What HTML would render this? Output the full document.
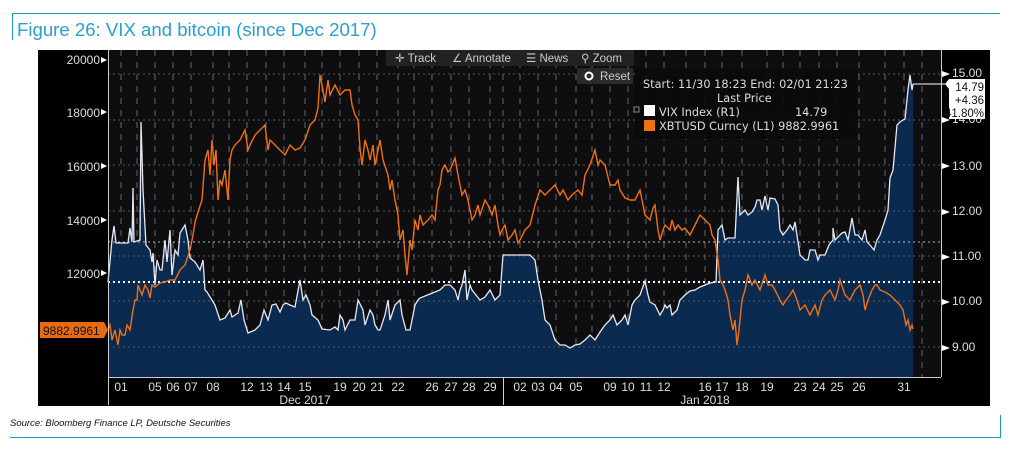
<!DOCTYPE html>
<html><head><meta charset="utf-8"><style>
body{margin:0;background:#fff;width:1011px;height:457px;overflow:hidden;font-family:"Liberation Sans",sans-serif}
svg{position:absolute;left:0;top:0}
</style></head><body>
<svg width="1011" height="457" viewBox="0 0 1011 457" font-family="Liberation Sans, sans-serif">
<line x1="12" y1="13.5" x2="1000" y2="13.5" stroke="#1a9bc4" stroke-width="1"/>
<line x1="12.5" y1="13" x2="12.5" y2="40" stroke="#1a9bc4"/>
<text x="17" y="36" font-size="18.6" fill="#2a9fd0">Figure 26: VIX and bitcoin (since Dec 2017)</text>
<rect x="38" y="50" width="952" height="356" fill="#000"/>
<rect x="108" y="50" width="833" height="327" fill="#0e0e10"/>
<g stroke="#666" stroke-dasharray="6,6" stroke-width="1">
<line x1="121" y1="50" x2="121" y2="377"/><line x1="137" y1="50" x2="137" y2="377"/><line x1="155" y1="50" x2="155" y2="377"/><line x1="173" y1="50" x2="173" y2="377"/><line x1="191" y1="50" x2="191" y2="377"/><line x1="213" y1="50" x2="213" y2="377"/><line x1="229" y1="50" x2="229" y2="377"/><line x1="247" y1="50" x2="247" y2="377"/><line x1="266" y1="50" x2="266" y2="377"/><line x1="284" y1="50" x2="284" y2="377"/><line x1="305" y1="50" x2="305" y2="377"/><line x1="322" y1="50" x2="322" y2="377"/><line x1="340" y1="50" x2="340" y2="377"/><line x1="359" y1="50" x2="359" y2="377"/><line x1="377" y1="50" x2="377" y2="377"/><line x1="398" y1="50" x2="398" y2="377"/><line x1="414" y1="50" x2="414" y2="377"/><line x1="432" y1="50" x2="432" y2="377"/><line x1="451" y1="50" x2="451" y2="377"/><line x1="469" y1="50" x2="469" y2="377"/><line x1="490" y1="50" x2="490" y2="377"/><line x1="503" y1="50" x2="503" y2="377"/><line x1="520" y1="50" x2="520" y2="377"/><line x1="538" y1="50" x2="538" y2="377"/><line x1="556" y1="50" x2="556" y2="377"/><line x1="576" y1="50" x2="576" y2="377"/><line x1="592" y1="50" x2="592" y2="377"/><line x1="610" y1="50" x2="610" y2="377"/><line x1="628" y1="50" x2="628" y2="377"/><line x1="646" y1="50" x2="646" y2="377"/><line x1="664" y1="50" x2="664" y2="377"/><line x1="686" y1="50" x2="686" y2="377"/><line x1="705" y1="50" x2="705" y2="377"/><line x1="722" y1="50" x2="722" y2="377"/><line x1="742" y1="50" x2="742" y2="377"/><line x1="767" y1="50" x2="767" y2="377"/><line x1="783" y1="50" x2="783" y2="377"/><line x1="800" y1="50" x2="800" y2="377"/><line x1="819" y1="50" x2="819" y2="377"/><line x1="837" y1="50" x2="837" y2="377"/><line x1="859" y1="50" x2="859" y2="377"/><line x1="885" y1="50" x2="885" y2="377"/><line x1="904" y1="50" x2="904" y2="377"/><line x1="922" y1="50" x2="922" y2="377"/>
</g>
<path fill="#0b2a50" d="M108,377 L108,282 112,240 114,226 116,243 128,243 130,228 132,242 133,188 134,242 140,240 141,122 143,190 146,245 150,250 152,262 153,253 155,285 157,260 160,270 162,270 165,240 167,262 170,230 172,275 175,250 178,255 180,233 185,225 188,240 190,258 195,262 200,270 203,260 205,290 207,292 215,305 220,320 225,318 230,310 232,317 238,313 241,300 244,320 248,333 255,330 260,325 264,310 268,320 272,305 276,304 280,312 283,305 286,303 290,305 295,307 300,280 303,300 306,295 310,305 312,315 318,320 322,329 330,330 335,327 338,330 340,315 343,320 345,330 350,320 355,320 358,300 363,310 365,325 370,310 373,315 375,325 378,330 380,330 385,315 388,300 390,320 395,305 400,300 402,315 406,330 410,330 415,305 418,300 420,298 430,294 440,290 445,285 450,285 455,290 458,300 460,290 462,285 465,270 467,300 470,285 472,290 480,300 485,297 490,290 495,300 500,295 503,255 510,255 520,255 530,255 535,260 538,280 542,300 545,320 550,325 555,340 560,345 565,345 570,348 575,345 580,344 585,340 590,335 595,340 600,332 605,325 610,320 613,315 617,325 622,320 625,315 628,325 632,305 635,300 640,295 645,281 648,295 650,302 655,305 660,315 663,310 665,305 667,308 670,305 672,315 677,310 680,300 685,295 690,291 695,290 700,287 710,283 716,282 718,230 722,225 725,240 728,238 733,238 735,238 738,177 740,215 745,210 748,215 752,212 755,207 757,200 760,200 762,210 765,196 768,210 770,198 775,199 778,205 780,230 783,235 787,230 790,225 793,230 795,222 800,255 805,260 808,260 810,250 815,250 818,260 820,255 825,255 829,245 833,240 833,228 835,240 842,233 845,232 848,240 852,218 855,235 858,235 862,240 865,230 867,242 870,245 874,250 877,240 880,235 885,220 888,210 890,178 893,170 897,125 900,122 903,120 905,119 908,90 910,75 912,90 913,84 L913,377 Z"/>
<g stroke-dasharray="2,3" fill="none">
<g stroke="#555"><line x1="108" y1="74" x2="941" y2="74"/><line x1="108" y1="120" x2="941" y2="120"/><line x1="108" y1="165" x2="941" y2="165"/><line x1="108" y1="211" x2="941" y2="211"/><line x1="108" y1="256" x2="941" y2="256"/><line x1="108" y1="301" x2="941" y2="301"/><line x1="108" y1="347" x2="941" y2="347"/></g>
<line x1="108" y1="242" x2="941" y2="242" stroke="#bbb"/>
<line x1="108" y1="282" x2="941" y2="282" stroke="#fff" stroke-width="2"/>
</g>
<polyline fill="none" stroke="#e8e8f0" stroke-width="1.3" points="108,282 112,240 114,226 116,243 128,243 130,228 132,242 133,188 134,242 140,240 141,122 143,190 146,245 150,250 152,262 153,253 155,285 157,260 160,270 162,270 165,240 167,262 170,230 172,275 175,250 178,255 180,233 185,225 188,240 190,258 195,262 200,270 203,260 205,290 207,292 215,305 220,320 225,318 230,310 232,317 238,313 241,300 244,320 248,333 255,330 260,325 264,310 268,320 272,305 276,304 280,312 283,305 286,303 290,305 295,307 300,280 303,300 306,295 310,305 312,315 318,320 322,329 330,330 335,327 338,330 340,315 343,320 345,330 350,320 355,320 358,300 363,310 365,325 370,310 373,315 375,325 378,330 380,330 385,315 388,300 390,320 395,305 400,300 402,315 406,330 410,330 415,305 418,300 420,298 430,294 440,290 445,285 450,285 455,290 458,300 460,290 462,285 465,270 467,300 470,285 472,290 480,300 485,297 490,290 495,300 500,295 503,255 510,255 520,255 530,255 535,260 538,280 542,300 545,320 550,325 555,340 560,345 565,345 570,348 575,345 580,344 585,340 590,335 595,340 600,332 605,325 610,320 613,315 617,325 622,320 625,315 628,325 632,305 635,300 640,295 645,281 648,295 650,302 655,305 660,315 663,310 665,305 667,308 670,305 672,315 677,310 680,300 685,295 690,291 695,290 700,287 710,283 716,282 718,230 722,225 725,240 728,238 733,238 735,238 738,177 740,215 745,210 748,215 752,212 755,207 757,200 760,200 762,210 765,196 768,210 770,198 775,199 778,205 780,230 783,235 787,230 790,225 793,230 795,222 800,255 805,260 808,260 810,250 815,250 818,260 820,255 825,255 829,245 833,240 833,228 835,240 842,233 845,232 848,240 852,218 855,235 858,235 862,240 865,230 867,242 870,245 874,250 877,240 880,235 885,220 888,210 890,178 893,170 897,125 900,122 903,120 905,119 908,90 910,75 912,90 913,84"/>
<polyline fill="none" stroke="#f07010" stroke-width="1.4" points="108,330 110,325 112,340 115,330 118,345 120,330 122,335 125,335 127,325 130,330 133,310 135,300 137,300 138,285 142,295 145,285 148,290 150,298 152,285 155,287 160,283 165,282 170,280 175,280 180,270 185,265 190,250 193,235 195,222 198,212 202,200 205,160 208,150 210,175 212,140 214,165 216,150 218,200 220,180 222,185 225,170 228,200 230,160 232,150 235,145 240,140 245,130 248,150 250,145 255,135 260,130 265,125 268,150 270,140 275,145 280,150 285,155 290,145 295,150 300,148 305,140 310,125 315,120 318,108 320,75 322,85 325,102 328,80 330,95 335,85 340,95 345,90 350,90 352,105 355,115 358,120 360,148 362,165 365,140 368,150 370,160 373,145 375,165 378,150 380,140 383,160 388,175 390,190 392,180 395,200 398,215 400,240 403,230 405,255 407,275 410,240 412,250 415,220 418,230 420,215 423,225 428,220 432,215 435,220 438,190 440,185 442,170 445,165 448,172 450,170 455,158 458,175 462,195 465,190 468,200 470,210 472,220 475,215 478,205 480,215 485,200 488,205 492,215 495,205 498,225 500,235 502,230 505,225 508,240 512,235 515,230 518,243 520,240 525,230 530,225 535,205 540,190 545,195 550,190 555,185 560,195 563,190 568,200 572,195 578,190 582,195 585,175 590,165 595,150 598,165 600,160 605,165 610,185 615,185 618,180 620,190 625,198 630,200 635,200 640,190 643,205 645,215 650,220 653,208 655,205 658,230 660,240 663,230 665,225 670,230 672,220 675,230 678,225 682,230 685,228 690,235 695,225 700,215 705,220 710,225 712,235 715,240 718,260 720,280 723,285 725,290 728,300 730,315 733,330 735,320 737,345 739,330 742,300 745,290 748,275 752,285 755,280 760,290 765,275 768,285 772,285 775,290 780,300 783,305 786,300 790,295 793,290 797,300 800,310 805,305 810,315 815,305 818,315 822,300 825,295 830,290 835,300 838,290 840,280 845,295 850,300 855,290 860,285 863,295 865,310 868,300 872,290 875,285 877,285 880,290 885,292 890,295 895,300 900,305 903,310 906,325 908,320 910,330 912,325 913,329"/>
<line x1="108.5" y1="50" x2="108.5" y2="405" stroke="#ccc"/>
<line x1="941.5" y1="50" x2="941.5" y2="377" stroke="#ccc"/>
<line x1="108" y1="377.5" x2="941" y2="377.5" stroke="#ccc"/>
<line x1="503.5" y1="377" x2="503.5" y2="405" stroke="#ccc"/>
<g fill="#ddd" font-size="12" text-anchor="end">
<text x="100" y="64">20000</text><text x="100" y="117">18000</text><text x="100" y="171">16000</text><text x="100" y="225">14000</text><text x="100" y="278">12000</text>
</g>
<g fill="#fff"><path d="M101,57 l6,3 -6,3z"/><path d="M101,109 l6,3 -6,3z"/><path d="M101,163 l6,3 -6,3z"/><path d="M101,217 l6,3 -6,3z"/><path d="M101,270 l6,3 -6,3z"/></g>
<g fill="#ddd" font-size="12">
<text x="952" y="77">15.00</text><text x="952" y="123">14.00</text><text x="952" y="170">13.00</text><text x="952" y="215">12.00</text><text x="952" y="260">11.00</text><text x="952" y="305">10.00</text><text x="952" y="351">9.00</text>
</g>
<g fill="#fff"><path d="M942,71 l8,3 -8,3z"/><path d="M942,117 l8,3 -8,3z"/><path d="M942,163 l8,3 -8,3z"/><path d="M942,209 l8,3 -8,3z"/><path d="M942,254 l8,3 -8,3z"/><path d="M942,299 l8,3 -8,3z"/><path d="M942,345 l8,3 -8,3z"/></g>
<line x1="913" y1="84" x2="945" y2="84" stroke="#fff"/>
<path d="M945,84 l4,-5 h36 v40 h-36 v-30z" fill="#fff"/>
<g font-size="11.5" fill="#111" text-anchor="end"><text x="984" y="91">14.79</text><text x="984" y="104">+4.36</text><text x="984" y="117">41.80%</text></g>
<path d="M40,322 h64 l4,8 -4,8 h-64z" fill="#e86a10"/>
<text x="43" y="335" font-size="12" fill="#111">9882.9961</text>
<g fill="#ddd" font-size="12" text-anchor="middle">
<text x="121" y="391">01</text><text x="155" y="391">05</text><text x="173" y="391">06</text><text x="191" y="391">07</text><text x="213" y="391">08</text><text x="247" y="391">12</text><text x="266" y="391">13</text><text x="284" y="391">14</text><text x="305" y="391">15</text><text x="340" y="391">19</text><text x="359" y="391">20</text><text x="377" y="391">21</text><text x="398" y="391">22</text><text x="432" y="391">26</text><text x="451" y="391">27</text><text x="469" y="391">28</text><text x="490" y="391">29</text><text x="520" y="391">02</text><text x="538" y="391">03</text><text x="556" y="391">04</text><text x="576" y="391">05</text><text x="610" y="391">09</text><text x="628" y="391">10</text><text x="646" y="391">11</text><text x="664" y="391">12</text><text x="705" y="391">16</text><text x="722" y="391">17</text><text x="742" y="391">18</text><text x="767" y="391">19</text><text x="800" y="391">23</text><text x="819" y="391">24</text><text x="837" y="391">25</text><text x="859" y="391">26</text><text x="904" y="391">31</text>
<text x="305" y="404">Dec 2017</text><text x="705" y="404">Jan 2018</text>
</g>
<rect x="386" y="50" width="248" height="16" fill="#222"/>
<g font-size="11.5" fill="#ccc"><text x="395" y="62">✛ Track</text><text x="452" y="62">∠ Annotate</text><text x="526" y="62">☰ News</text><text x="581" y="62">⚲ Zoom</text></g>
<rect x="635" y="69" width="222" height="70" fill="#0a0a0a" opacity="0.9"/>
<rect x="577" y="68" width="56" height="16" fill="#2a2a2a"/>
<circle cx="589" cy="76" r="3.5" fill="none" stroke="#fff" stroke-width="2"/>
<text x="600" y="80" font-size="11.5" fill="#ccc">Reset</text>
<g font-family="DejaVu Sans, sans-serif" font-size="11.3" fill="#ddd">
<text x="643" y="88">Start: 11/30 18:23 End: 02/01 21:23</text>
<text x="717" y="102">Last Price</text>
<text x="659" y="116">VIX Index  (R1)</text><text x="795" y="116">14.79</text>
<text x="659" y="130">XBTUSD Curncy  (L1) 9882.9961</text>
</g>
<rect x="634" y="107" width="5" height="5" fill="none" stroke="#888"/>
<rect x="644" y="105" width="11" height="11" fill="#fff"/>
<rect x="644" y="120" width="11" height="11" fill="#f07010"/>
<text x="10" y="426" font-size="9.5" font-style="italic" fill="#111">Source: Bloomberg Finance LP, Deutsche Securities</text>
<line x1="10" y1="437.5" x2="1000" y2="437.5" stroke="#1a9bc4"/>
<line x1="1000.5" y1="415" x2="1000.5" y2="438" stroke="#1a9bc4"/>
</svg>
</body></html>
